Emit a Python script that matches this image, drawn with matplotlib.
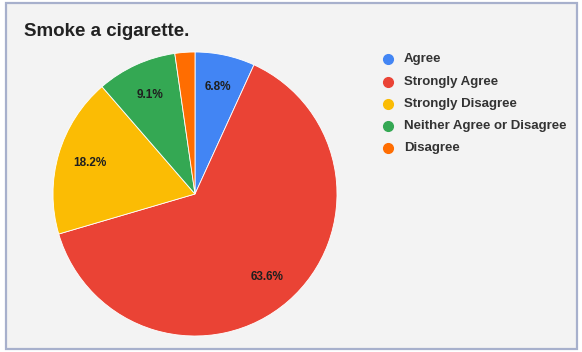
import matplotlib
matplotlib.use("Agg")
import matplotlib.pyplot as plt
from matplotlib.patches import Rectangle
from matplotlib.lines import Line2D

title = "Smoke a cigarette."
labels = ["Agree", "Strongly Agree", "Strongly Disagree",
          "Neither Agree or Disagree", "Disagree"]
counts = [3, 28, 8, 4, 1]
colors = ["#4285f4", "#ea4335", "#fbbc04", "#34a853", "#ff6d01"]

W, H = 582, 352
plt.rcParams['font.family'] = ['Liberation Sans', 'DejaVu Sans']

fig = plt.figure(figsize=(W / 100, H / 100), dpi=100)
fig.patch.set_facecolor("white")

# panel behind the chart
panel = Rectangle((6 / W, 3 / H), 571 / W, 346 / H, transform=fig.transFigure,
                  facecolor="#f3f3f3", edgecolor="#a7b0cc", linewidth=1.6, zorder=-1)
fig.add_artist(panel)

fig.text(24 / W, 1 - 36 / H, title, fontsize=13.5, fontweight="bold",
         color="#222222", va="baseline", ha="left")

# pie centred at (195, 194) px with radius 142 px
cx, cy, r = 195, 194, 142
ax = fig.add_axes([(cx - r) / W, (H - cy - r) / H, 2 * r / W, 2 * r / H])


def pct_label(p):
    return "%.1f%%" % p if p >= 5 else ""


wedges, texts, autotexts = ax.pie(
    counts, colors=colors, startangle=90, counterclock=False, radius=1,
    autopct=pct_label, pctdistance=0.77,
    wedgeprops=dict(edgecolor="white", linewidth=0.6),
    textprops=dict(fontsize=8.5, fontweight="bold", color="#1f1f1f"))
ax.set_xlim(-1, 1)
ax.set_ylim(-1, 1)
ax.set_aspect("equal")
ax.axis("off")

# legend rows
row_y = [59, 82, 104, 126, 148]
for lab, col, y in zip(labels, colors, row_y):
    fig.add_artist(Line2D([388 / W], [1 - y / H], marker="o", markersize=7,
                          color=col, linestyle="none", transform=fig.transFigure))
    fig.text(404 / W, 1 - y / H, lab, fontsize=9.5, fontweight="bold",
             color="#333333", va="center", ha="left")

fig.savefig("out.png", dpi=100, facecolor=fig.get_facecolor())
